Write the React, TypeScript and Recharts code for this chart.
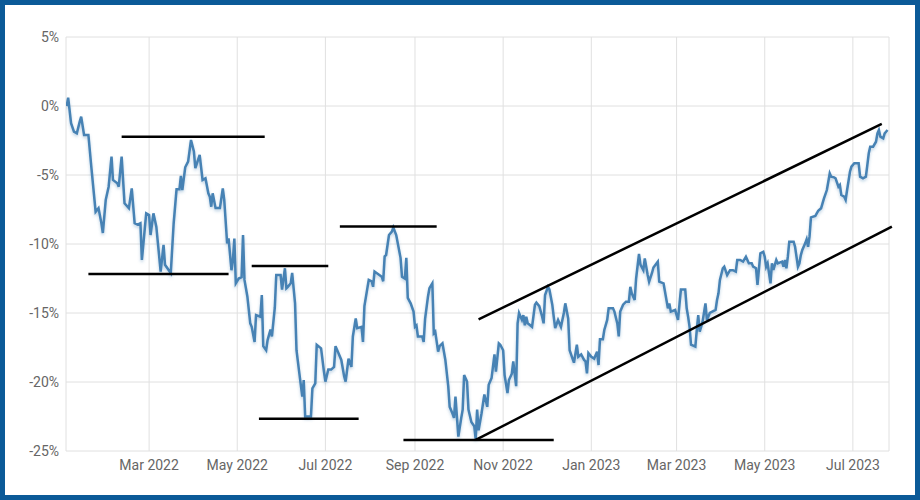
import React from 'react';
import { LineChart, Line, XAxis, YAxis, CartesianGrid, ReferenceLine } from 'recharts';

const dates = [
  '2022-01-03','2022-01-04','2022-01-06','2022-01-08','2022-01-10','2022-01-12','2022-01-13','2022-01-15','2022-01-18','2022-01-20',
  '2022-01-23','2022-01-25','2022-01-27','2022-01-28','2022-01-30','2022-02-01','2022-02-03','2022-02-04','2022-02-07','2022-02-08',
  '2022-02-10','2022-02-12','2022-02-15','2022-02-17','2022-02-19','2022-02-21','2022-02-23','2022-02-24','2022-02-27','2022-03-01',
  '2022-03-02','2022-03-04','2022-03-06','2022-03-09','2022-03-11','2022-03-12','2022-03-16','2022-03-18','2022-03-20','2022-03-22',
  '2022-03-23','2022-03-24','2022-03-26','2022-03-28','2022-03-30','2022-04-01','2022-04-02','2022-04-05','2022-04-07','2022-04-09',
  '2022-04-11','2022-04-12','2022-04-13','2022-04-14','2022-04-16','2022-04-19','2022-04-21','2022-04-22','2022-04-24','2022-04-25',
  '2022-04-27','2022-04-28','2022-04-29','2022-04-30','2022-05-02','2022-05-04','2022-05-05','2022-05-06','2022-05-08','2022-05-10',
  '2022-05-11','2022-05-13','2022-05-14','2022-05-17','2022-05-18','2022-05-19','2022-05-21','2022-05-22','2022-05-24','2022-05-25',
  '2022-05-27','2022-05-28','2022-05-31','2022-06-01','2022-06-03','2022-06-04','2022-06-05','2022-06-07','2022-06-08','2022-06-10',
  '2022-06-11','2022-06-13','2022-06-15','2022-06-16','2022-06-17','2022-06-21','2022-06-22','2022-06-24','2022-06-25','2022-06-28',
  '2022-06-30','2022-07-01','2022-07-03','2022-07-05','2022-07-07','2022-07-08','2022-07-10','2022-07-12','2022-07-14','2022-07-15',
  '2022-07-17','2022-07-19','2022-07-20','2022-07-22','2022-07-23','2022-07-26','2022-07-27','2022-07-28','2022-07-31','2022-08-02',
  '2022-08-03','2022-08-04','2022-08-09','2022-08-10','2022-08-11','2022-08-12','2022-08-14','2022-08-16','2022-08-17','2022-08-19',
  '2022-08-22','2022-08-23','2022-08-25','2022-08-26','2022-08-27','2022-08-29','2022-08-31','2022-09-01','2022-09-02','2022-09-03',
  '2022-09-06','2022-09-07','2022-09-08','2022-09-10','2022-09-11','2022-09-13','2022-09-14','2022-09-15','2022-09-17','2022-09-18',
  '2022-09-20','2022-09-22','2022-09-24','2022-09-25','2022-09-27','2022-09-28','2022-09-29','2022-10-01','2022-10-03','2022-10-04',
  '2022-10-05','2022-10-07','2022-10-08','2022-10-10','2022-10-12','2022-10-13','2022-10-14','2022-10-15','2022-10-17','2022-10-19',
  '2022-10-21','2022-10-22','2022-10-24','2022-10-26','2022-10-27','2022-10-29','2022-10-30','2022-11-01','2022-11-02','2022-11-04',
  '2022-11-05','2022-11-07','2022-11-08','2022-11-10','2022-11-11','2022-11-12','2022-11-14','2022-11-15','2022-11-16','2022-11-17',
  '2022-11-18','2022-11-21','2022-11-23','2022-11-24','2022-11-26','2022-11-28','2022-11-29','2022-11-30','2022-12-02','2022-12-03',
  '2022-12-05','2022-12-06','2022-12-07','2022-12-09','2022-12-11','2022-12-13','2022-12-14','2022-12-16','2022-12-17','2022-12-19',
  '2022-12-20','2022-12-22','2022-12-23','2022-12-25','2022-12-27','2022-12-28','2022-12-29','2022-12-30','2023-01-01','2023-01-03',
  '2023-01-05','2023-01-06','2023-01-07','2023-01-09','2023-01-10','2023-01-12','2023-01-13','2023-01-16','2023-01-17','2023-01-19',
  '2023-01-20','2023-01-21','2023-01-23','2023-01-25','2023-01-27','2023-01-28','2023-01-29','2023-01-31','2023-02-01','2023-02-03',
  '2023-02-04','2023-02-06','2023-02-07','2023-02-09','2023-02-10','2023-02-12','2023-02-13','2023-02-16','2023-02-17','2023-02-20',
  '2023-02-21','2023-02-23','2023-02-24','2023-02-25','2023-02-28','2023-03-02','2023-03-03','2023-03-04','2023-03-07','2023-03-08',
  '2023-03-09','2023-03-10','2023-03-11','2023-03-14','2023-03-15','2023-03-16','2023-03-17','2023-03-18','2023-03-19','2023-03-21',
  '2023-03-22','2023-03-24','2023-03-28','2023-03-29','2023-03-30','2023-03-31','2023-04-02','2023-04-03','2023-04-05','2023-04-07',
  '2023-04-09','2023-04-11','2023-04-12','2023-04-14','2023-04-16','2023-04-18','2023-04-20','2023-04-22','2023-04-23','2023-04-25',
  '2023-04-26','2023-04-28','2023-04-30','2023-05-01','2023-05-02','2023-05-03','2023-05-05','2023-05-06','2023-05-07','2023-05-09',
  '2023-05-10','2023-05-13','2023-05-14','2023-05-15','2023-05-16','2023-05-17','2023-05-18','2023-05-21','2023-05-22','2023-05-24',
  '2023-05-25','2023-05-26','2023-05-27','2023-05-29','2023-05-30','2023-05-31','2023-06-01','2023-06-02','2023-06-05','2023-06-06',
  '2023-06-07','2023-06-09','2023-06-10','2023-06-11','2023-06-13','2023-06-14','2023-06-15','2023-06-16','2023-06-18','2023-06-19',
  '2023-06-21','2023-06-22','2023-06-23','2023-06-25','2023-06-26','2023-06-27','2023-06-29','2023-06-30','2023-07-02','2023-07-05',
  '2023-07-06','2023-07-08','2023-07-10','2023-07-11','2023-07-12','2023-07-13','2023-07-15','2023-07-17','2023-07-18','2023-07-19',
  '2023-07-20','2023-07-22','2023-07-23','2023-07-25',
];

const returnsPct = [
  0.0, 0.6, -1.25, -1.86, -1.98, -1.13, -0.77, -2.1, -2.1, -4.4,
  -7.66, -7.4, -8.5, -9.2, -6.8, -5.85, -3.67, -5.36, -5.6, -5.85,
  -3.67, -7.05, -7.4, -5.97, -8.5, -8.6, -8.5, -11.16, -7.78, -7.9,
  -9.35, -7.78, -8.74, -12.0, -10.07, -11.5, -12.1, -8.5, -6.04, -6.04,
  -5.07, -6.09, -4.44, -4.03, -2.46, -3.3, -4.5, -3.55, -5.36, -5.24,
  -6.33, -6.57, -7.3, -6.33, -7.4, -7.4, -5.97, -6.8, -9.95, -9.6,
  -11.9, -11.16, -9.6, -12.85, -12.5, -12.4, -9.35, -12.6, -13.8, -15.75,
  -16.0, -17.1, -15.15, -15.27, -13.7, -17.4, -17.7, -16.96, -16.2, -16.7,
  -14.6, -12.25, -12.25, -13.3, -11.76, -13.2, -13.1, -12.85, -12.1, -14.3,
  -17.7, -19.4, -21.06, -19.86, -22.5, -22.5, -20.46, -20.1, -17.3, -17.56,
  -19.25, -19.97, -19.1, -19.1, -18.9, -17.4, -17.9, -18.4, -19.6, -19.97,
  -18.3, -18.9, -16.7, -15.4, -16.1, -16.0, -17.1, -14.5, -12.6, -12.7,
  -13.1, -12.0, -12.37, -12.7, -10.9, -10.8, -9.35, -9.1, -8.8, -9.35,
  -11.0, -12.37, -12.5, -11.0, -13.9, -14.3, -14.9, -16.0, -15.9, -16.7,
  -16.7, -17.1, -15.4, -13.8, -13.2, -12.85, -16.47, -16.35, -17.8, -17.4,
  -17.2, -18.4, -20.3, -21.8, -22.3, -22.6, -21.06, -23.96, -22.6, -22.0,
  -19.5, -19.97, -22.0, -22.9, -23.2, -24.15, -22.0, -23.5, -22.3, -20.9,
  -21.8, -20.2, -19.7, -18.0, -19.25, -17.2, -17.3, -17.7, -19.5, -20.8,
  -19.86, -19.4, -18.5, -20.3, -15.75, -15.0, -15.5, -15.15, -15.9, -15.27,
  -15.75, -16.0, -14.4, -14.25, -14.5, -15.27, -15.75, -13.7, -13.1, -13.3,
  -14.4, -15.27, -16.1, -15.5, -16.0, -15.0, -14.3, -15.4, -17.7, -18.3,
  -18.6, -17.3, -18.17, -18.0, -18.4, -18.5, -19.37, -17.9, -18.17, -18.3,
  -17.8, -18.77, -16.9, -16.9, -16.23, -15.5, -14.66, -14.66, -14.9, -15.75,
  -16.7, -14.9, -14.4, -14.18, -14.18, -13.1, -13.57, -14.06, -12.5, -10.72,
  -11.5, -11.9, -11.04, -12.25, -12.73, -12.1, -11.7, -11.28, -12.73, -12.85,
  -13.46, -14.66, -14.3, -14.9, -14.78, -15.5, -14.4, -13.3, -13.3, -14.66,
  -15.27, -16.0, -17.3, -17.44, -16.23, -15.15, -16.35, -16.0, -15.63, -14.3,
  -15.5, -15.0, -14.78, -14.06, -13.57, -12.6, -11.76, -11.64, -12.25, -11.9,
  -11.9, -12.0, -11.16, -11.16, -11.28, -10.92, -11.4, -11.4, -11.64, -11.76,
  -12.97, -10.67, -10.56, -10.92, -11.64, -11.4, -12.85, -11.4, -11.88, -11.16,
  -11.4, -11.28, -11.64, -11.16, -11.76, -10.92, -9.83, -9.83, -10.2, -11.64,
  -11.4, -10.8, -10.43, -9.95, -9.66, -10.2, -9.47, -8.07, -7.97, -7.78,
  -7.6, -7.41, -7.05, -6.69, -6.09, -5.49, -4.88, -5.12, -5.17, -5.24,
  -5.85, -5.72, -6.45, -6.57, -6.8, -6.09, -4.76, -4.4, -4.15, -4.15,
  -5.12, -5.24, -5.12, -4.28, -3.43, -2.95, -2.95, -2.59, -1.98, -1.74,
  -2.22, -2.34, -1.98, -1.74,
];

const xTickDates = [
  '2022-03-01', '2022-05-01', '2022-07-01', '2022-09-01', '2022-11-01',
  '2023-01-01', '2023-03-01', '2023-05-01', '2023-07-01',
];
const yTicks = [5, 0, -5, -10, -15, -20, -25];

// Annotation lines drawn on the chart: [startDate, startValue, endDate, endValue]
const supportResistanceLines: [string, number, string, number][] = [
  ['2022-02-10', -2.22, '2022-05-20', -2.22],
  ['2022-01-18', -12.17, '2022-04-25', -12.17],
  ['2022-05-11', -11.6, '2022-07-03', -11.6],
  ['2022-05-16', -22.66, '2022-07-24', -22.66],
  ['2022-07-11', -8.74, '2022-09-16', -8.74],
  ['2022-08-24', -24.2, '2022-12-06', -24.2],
];
const channelLines: [string, number, string, number][] = [
  ['2022-10-13', -24.2, '2023-07-28', -8.74],
  ['2022-10-15', -15.46, '2023-07-21', -1.3],
];

const MONTHS = ['Jan', 'Feb', 'Mar', 'Apr', 'May', 'Jun', 'Jul', 'Aug', 'Sep', 'Oct', 'Nov', 'Dec'];

const data = dates.map((d, i) => ({ t: Date.parse(d), v: returnsPct[i] }));
const xTicks = xTickDates.map((d) => Date.parse(d));
const xDomain = [Date.UTC(2022, 0, 2, 12), Date.UTC(2023, 6, 26)];

const fmtDate = (t: number) => {
  const d = new Date(t);
  return `${MONTHS[d.getUTCMonth()]} ${d.getUTCFullYear()}`;
};

const tickStyle = { fill: '#666', fontSize: 14, fontFamily: 'Roboto, sans-serif' };

export default function App() {
  const allLines = [...supportResistanceLines, ...channelLines];
  return (
    <div
      style={{
        position: 'fixed',
        left: 0,
        top: 0,
        width: 920,
        height: 500,
        boxSizing: 'border-box',
        border: '5px solid #0b5a98',
        background: '#fff',
        fontFamily: 'Roboto, sans-serif',
      }}
    >
      <svg width={0} height={0} style={{ position: 'absolute' }}>
        <defs>
          <filter id="lineShadow" x="-5%" y="-5%" width="110%" height="120%">
            <feDropShadow dx="0" dy="2" stdDeviation="1.5" floodColor="#4682b4" floodOpacity="0.35" />
          </filter>
        </defs>
      </svg>
      <LineChart width={910} height={490} data={data} margin={{ top: 32, right: 26, bottom: 14, left: 0 }}>
        <CartesianGrid stroke="#e0e0e0" strokeWidth={1} />
        <XAxis
          dataKey="t"
          type="number"
          scale="time"
          domain={xDomain}
          ticks={xTicks}
          tickFormatter={fmtDate}
          axisLine={false}
          tickLine={false}
          tick={tickStyle}
          tickMargin={3}
          height={30}
          allowDataOverflow
        />
        <YAxis
          type="number"
          domain={[-25, 5]}
          ticks={yTicks}
          tickFormatter={(v: number) => `${v}%`}
          axisLine={false}
          tickLine={false}
          tick={tickStyle}
          tickMargin={1}
          width={61}
          allowDataOverflow
        />
        <Line
          type="linear"
          dataKey="v"
          stroke="#4682b4"
          strokeWidth={2.5}
          dot={false}
          activeDot={false}
          isAnimationActive={false}
          filter="url(#lineShadow)"
        />
        {allLines.map(([d1, v1, d2, v2], i) => (
          <ReferenceLine
            key={i}
            segment={[
              { x: Date.parse(d1), y: v1 },
              { x: Date.parse(d2), y: v2 },
            ]}
            stroke="#000"
            strokeWidth={2.5}
            ifOverflow="visible"
          />
        ))}
      </LineChart>
    </div>
  );
}
